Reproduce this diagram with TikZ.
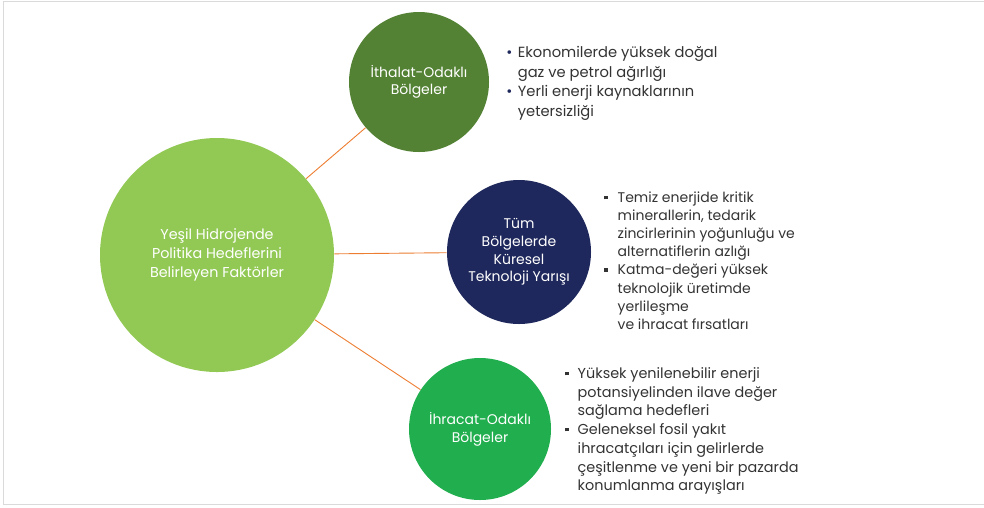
\documentclass[tikz,border=0pt]{standalone}
\usepackage{fontspec}
\setmainfont{Poppins}
\usepackage{xcolor}
\usetikzlibrary{shapes}

\definecolor{leafgreen}{HTML}{92C955}
\definecolor{olivegreen}{HTML}{548235}
\definecolor{deepnavy}{HTML}{1F285C}
\definecolor{grassgreen}{HTML}{21AE4E}
\definecolor{linkorange}{HTML}{ED7D31}
\definecolor{notegray}{HTML}{333333}
\definecolor{framegray}{HTML}{DADADA}

% bullet marks for the note lists
\newcommand{\roundmark}{\textcolor{deepnavy}{\textbullet}}
\newcommand{\squaremark}{\raisebox{3.2pt}{\rule{3.4pt}{3.4pt}}}

\begin{document}
\begin{tikzpicture}[x=1pt, y=-1pt, semithick, inner sep=2pt]

\tikzstyle{region}=[circle, draw=none, text=white, align=center, inner sep=0pt]
\tikzstyle{notes}=[anchor=base west, text=notegray, inner sep=0pt]
\tikzstyle{link}=[draw=linkorange, line width=0.9pt]

\useasboundingbox (0,0) rectangle (984,507);
\draw [framegray, line width=1.3pt] (984,1.5) -- (3.5,1.5) -- (3.5,504.5) -- (984,504.5);

\node [region, fill=leafgreen, minimum size=234pt, font=\fontsize{14.3}{19}\selectfont] (core) at (217,255)
  {Yeşil Hidrojende\\Politika Hedeflerini\\Belirleyen Faktörler};
\node [region, fill=olivegreen, minimum size=140pt, font=\fontsize{14}{17.5}\selectfont] (import) at (419,82)
  {İthalat-Odaklı\\Bölgeler};
\node [region, fill=deepnavy, minimum size=144pt, font=\fontsize{14}{17.8}\selectfont] (global) at (519,252)
  {Tüm\\Bölgelerde\\Küresel\\Teknoloji Yarışı};
\node [region, fill=grassgreen, minimum size=142pt, font=\fontsize{14}{18}\selectfont] (export) at (480,429)
  {İhracat-Odaklı\\Bölgeler};

\path [link]
(core) edge (import)
(core) edge (global)
(core) edge (export);

\node [notes, font=\fontsize{14.7}{19.6}\selectfont] (importnotes) at (506,57.5)
  {\begin{tabular}[t]{@{}l@{\hspace{5.5pt}}l@{}}
   \roundmark & Ekonomilerde yüksek doğal\\
              & gaz ve petrol ağırlığı\\
   \roundmark & Yerli enerji kaynaklarının\\
              & yetersizliği
   \end{tabular}};
\node [notes, font=\fontsize{14}{18.1}\selectfont] (globalnotes) at (604,202.5)
  {\begin{tabular}[t]{@{}l@{\hspace{10pt}}l@{}}
   \squaremark & Temiz enerjide kritik\\
               & minerallerin, tedarik\\
               & zincirlerinin yoğunluğu ve\\
               & alternatiflerin azlığı\\
   \squaremark & Katma-değeri yüksek\\
               & teknolojik üretimde\\
               & yerlileşme\\
               & ve ihracat fırsatları
   \end{tabular}};
\node [notes, font=\fontsize{14.4}{18.7}\selectfont] (exportnotes) at (565,378.5)
  {\begin{tabular}[t]{@{}l@{\hspace{9pt}}l@{}}
   \squaremark & Yüksek yenilenebilir enerji\\
               & potansiyelinden ilave değer\\
               & sağlama hedefleri\\
   \squaremark & Geleneksel fosil yakıt\\
               & ihracatçıları için gelirlerde\\
               & çeşitlenme ve yeni bir pazarda\\
               & konumlanma arayışları
   \end{tabular}};
\end{tikzpicture}
\end{document}
